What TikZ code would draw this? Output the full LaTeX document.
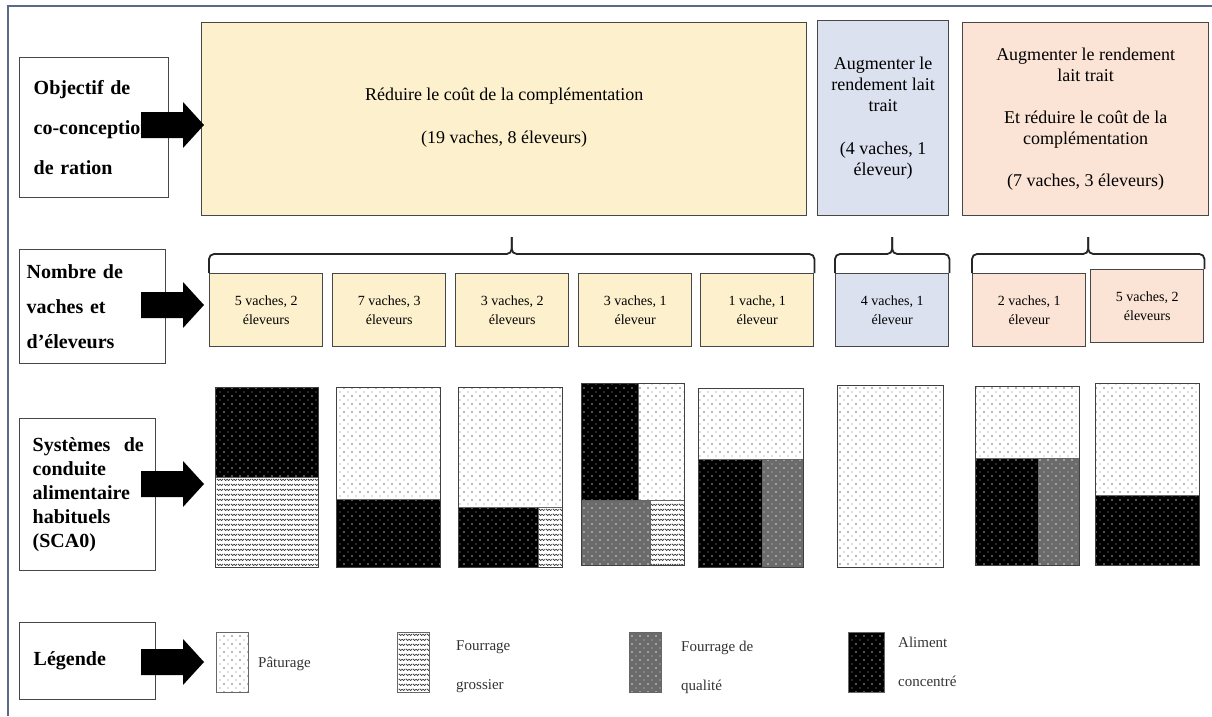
\documentclass[tikz,border=0pt]{standalone}
\usepackage{fontspec}
\setmainfont{Liberation Serif}
\usetikzlibrary{patterns, positioning, calc}
\definecolor{frameBlue}{HTML}{5A6A8A}
\definecolor{boxLine}{HTML}{474747}
\definecolor{objYellow}{HTML}{FDF0CC}
\definecolor{objBlue}{HTML}{DCE1F0}
\definecolor{objPink}{HTML}{FBE4D6}

% motifs des aliments
\pgfdeclarepatternformonly{sparsedots}{\pgfqpoint{-1pt}{-1pt}}{\pgfqpoint{5pt}{5pt}}{\pgfqpoint{8pt}{8pt}}{%
  \pgfpathcircle{\pgfqpoint{0pt}{0pt}}{0.9pt}
  \pgfpathcircle{\pgfqpoint{4pt}{4pt}}{0.7pt}
  \pgfusepath{fill}}
\pgfdeclarepatternformonly{wavelets}{\pgfqpoint{0pt}{0pt}}{\pgfqpoint{7pt}{5pt}}{\pgfqpoint{7pt}{5pt}}{%
  \pgfsetlinewidth{0.8pt}
  \pgfpathmoveto{\pgfqpoint{0pt}{3.6pt}}
  \pgfpathcurveto{\pgfqpoint{1pt}{1.2pt}}{\pgfqpoint{2.5pt}{1.2pt}}{\pgfqpoint{3.5pt}{3.2pt}}
  \pgfpathcurveto{\pgfqpoint{4.5pt}{1.2pt}}{\pgfqpoint{6pt}{1.2pt}}{\pgfqpoint{7pt}{3.6pt}}
  \pgfusepath{stroke}}

\newcommand{\rowarrow}[1]{%
  \fill (141,#1-13) -- (183,#1-13) -- (183,#1-23) -- (204,#1) -- (183,#1+23) -- (183,#1+13) -- (141,#1+13) -- cycle;}

\begin{document}
\begin{tikzpicture}[x=1pt,y=-1pt,
  rowlabel/.style={rectangle,draw=boxLine,line width=1.4pt,fill=white,anchor=north west,align=left,inner ysep=0pt},
  objbox/.style={rectangle,draw=boxLine,line width=1.4pt,anchor=north west,align=center,
    font=\fontsize{18}{21}\selectfont,inner sep=0pt},
  herdbox/.style={rectangle,draw=boxLine,line width=1.4pt,anchor=north west,align=center,
    minimum width=113,minimum height=73,font=\fontsize{14}{19}\selectfont,inner sep=0pt},
  bracket/.style={draw=black!85,line width=1.8pt,rounded corners=5pt},
  barline/.style={draw=black!75,line width=1pt},
  paturage/.style={draw=black!60,line width=0.6pt,preaction={fill=white},pattern=sparsedots,pattern color=black!55},
  grossier/.style={draw=black!60,line width=0.6pt,preaction={fill=white},pattern=wavelets,pattern color=black!80},
  qualite/.style={draw=black!60,line width=0.6pt,preaction={fill=black!58},pattern=sparsedots,pattern color=white!85!black},
  concentre/.style={draw=black!60,line width=0.6pt,preaction={fill=black},pattern=sparsedots,pattern color=black!35},
  swatch/.style={rectangle,anchor=north west,minimum width=32,minimum height=60,inner sep=0pt,draw=black!70,line width=1pt},
  legtext/.style={anchor=west,align=left,inner sep=0pt,text=black!80,font=\fontsize{15}{39}\selectfont}]

\useasboundingbox[fill=white] (0,0) rectangle (1212,716);
\draw[frameBlue,line width=1.5pt] (8,716) -- (8,6) -- (1212,6);

% libelles des lignes
\node[rowlabel,minimum width=149,minimum height=140,inner xsep=14pt,text width=121pt,
  font=\bfseries\fontsize{20}{40}\selectfont] (objectif) at (19,57) {Objectif de\\co-conception\\de ration};
\node[rowlabel,minimum width=146,minimum height=114,inner xsep=7pt,text width=132pt,
  font=\bfseries\fontsize{20}{35}\selectfont] (nombre) at (19,249) {Nombre de\\vaches et\\d'éleveurs};
\node[rowlabel,minimum width=136,minimum height=152,inner xsep=13pt,text width=110pt,
  font=\bfseries\fontsize{20}{24}\selectfont] (systemes) at (19,418) {Systèmes~~de\\conduite\\alimentaire\\habituels\\(SCA0)};
\node[rowlabel,minimum width=136,minimum height=77,inner xsep=14pt,text width=108pt,
  font=\bfseries\fontsize{20}{24}\selectfont] (legende) at (19,622) {Légende};

% objectifs
\node[objbox,fill=objYellow,minimum width=605,minimum height=193] (reduire) at (201,22)
  {\rule{0pt}{0pt}\\[-11pt]Réduire le coût de la complémentation\\[22pt](19 vaches, 8 éleveurs)};
\node[objbox,fill=objBlue,minimum width=131,minimum height=195] (augmenter) at (817,20)
  {Augmenter le\\rendement lait\\trait\\[22pt](4 vaches, 1\\éleveur)};
\node[objbox,fill=objPink,minimum width=246,minimum height=193] (lesdeux) at (962,22)
  {Augmenter le rendement\\lait trait\\[21pt]Et réduire le coût de la\\complémentation\\[21pt](7 vaches, 3 éleveurs)};

% groupes d'eleveurs
\node[herdbox,fill=objYellow] (h1) at (209,273) {5 vaches, 2\\éleveurs};
\node[herdbox,fill=objYellow] (h2) at (332,273) {7 vaches, 3\\éleveurs};
\node[herdbox,fill=objYellow] (h3) at (455,273) {3 vaches, 2\\éleveurs};
\node[herdbox,fill=objYellow] (h4) at (578,273) {3 vaches, 1\\éleveur};
\node[herdbox,fill=objYellow] (h5) at (700,273) {1 vache, 1\\éleveur};
\node[herdbox,fill=objBlue] (h6) at (835,273) {4 vaches, 1\\éleveur};
\node[herdbox,fill=objPink] (h7) at (972,273) {2 vaches, 1\\éleveur};
\node[herdbox,fill=objPink] (h8) at (1090,269) {5 vaches, 2\\éleveurs};

% accolades
\coordinate (tip1) at ($(h1.north west)!0.5!(h5.north east)+(0,-19)$);
\coordinate (tip2) at ($(h6.north west)!0.5!(h6.north east)+(0,-19)$);
\coordinate (tip3) at ($(h7.north west)!0.5!(h8.north east)+(0,-17)$);
\draw[bracket] (h1.north west) |- (tip1) -- ++(0,-17);
\draw[bracket] (h5.north east) |- (tip1) -- ++(0,-17);
\draw[bracket] (h6.north west) |- (tip2) -- ++(0,-17);
\draw[bracket] (h6.north east) |- (tip2) -- ++(0,-17);
\draw[bracket] (h7.north west) |- (tip3) -- ++(0,-17);
\draw[bracket] (h8.north east) |- (tip3) -- ++(0,-17);

% systemes alimentaires
\draw[concentre] (215,387) rectangle (318,477);
\draw[grossier] (215,477) rectangle (318,567);
\draw[barline] (215,387) rectangle (318,567);

\draw[paturage] (336,387) rectangle (440,499);
\draw[concentre] (336,499) rectangle (440,567);
\draw[barline] (336,387) rectangle (440,567);

\draw[paturage] (458,387) rectangle (562,507);
\draw[concentre] (458,507) rectangle (538,567);
\draw[grossier] (538,507) rectangle (562,567);
\draw[barline] (458,387) rectangle (562,567);

\draw[concentre] (581,383) rectangle (638,500);
\draw[paturage] (638,383) rectangle (684,500);
\draw[qualite] (581,500) rectangle (650,565);
\draw[grossier] (650,500) rectangle (684,565);
\draw[barline] (581,383) rectangle (684,565);

\draw[paturage] (698,388) rectangle (803,459);
\draw[concentre] (698,459) rectangle (762,567);
\draw[qualite] (762,459) rectangle (803,567);
\draw[barline] (698,388) rectangle (803,567);

\draw[paturage] (837,385) rectangle (943,567);
\draw[barline] (837,385) rectangle (943,567);

\draw[paturage] (975,386) rectangle (1079,458);
\draw[concentre] (975,458) rectangle (1038,565);
\draw[qualite] (1038,458) rectangle (1079,565);
\draw[barline] (975,386) rectangle (1079,565);

\draw[paturage] (1095,383) rectangle (1199,495);
\draw[concentre] (1095,495) rectangle (1199,565);
\draw[barline] (1095,383) rectangle (1199,565);

% legende
\node[swatch,paturage] (sPat) at (216,632) {};
\node[legtext] (tPat) at (258,664) {Pâturage};
\node[swatch,grossier] (sGro) at (397,632) {};
\node[legtext] (tGro) at (456,667) {Fourrage\\grossier};
\node[swatch,qualite] (sQua) at (629,632) {};
\node[legtext] (tQua) at (681,667) {Fourrage de\\qualité};
\node[swatch,concentre,minimum width=36] (sCon) at (848,632) {};
\node[legtext] (tCon) at (898,662) {Aliment\\concentré};

% fleches
\rowarrow{125}
\rowarrow{305}
\rowarrow{484}
\rowarrow{662}
\end{tikzpicture}
\end{document}
